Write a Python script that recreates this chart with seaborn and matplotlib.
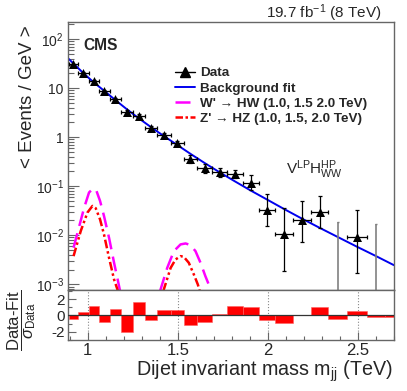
import numpy as np
import pandas as pd
import matplotlib
matplotlib.use("Agg")
import matplotlib.pyplot as plt
import seaborn as sns
from matplotlib.lines import Line2D
from matplotlib.ticker import FixedLocator, FixedFormatter, LogLocator, NullFormatter, MultipleLocator

# ---------------- data ----------------
bin_edges = [0.893, 0.946, 1.004, 1.063, 1.122, 1.185, 1.249, 1.316, 1.386, 1.460,
             1.533, 1.607, 1.690, 1.773, 1.860, 1.949, 2.041, 2.139, 2.239, 2.336,
             2.441, 2.549, 2.650]
data_y = [30.5, 20.8, 13.8, 8.6, 5.9, 3.24, 2.73, 1.52, 1.11, 0.75, 0.359, 0.233,
          0.191, 0.177, 0.116, 0.0328, 0.0107, 0.0205, 0.0303, 0.0, 0.0093, 0.0]
data_lo = [29.7, 20.1, 13.3, 8.2, 5.6, 3.0, 2.5, 1.38, 1.0, 0.66, 0.30, 0.19,
           0.157, 0.145, 0.083, 0.0155, 0.0019, 0.0074, 0.0143, 0.0, 0.00166, 0.0]
data_hi = [31.3, 21.5, 14.3, 9.0, 6.2, 3.5, 2.95, 1.67, 1.23, 0.85, 0.43, 0.285,
           0.232, 0.217, 0.169, 0.0689, 0.0356, 0.049, 0.063, 0.0186, 0.0323, 0.0172]

fit_mass = [0.89, 0.921, 0.974, 1.031, 1.092, 1.151, 1.216, 1.28, 1.35, 1.42, 1.497,
            1.572, 1.65, 1.731, 1.816, 1.903, 1.995, 2.087, 2.183, 2.285, 2.39, 2.495,
            2.60, 2.70]
fit_vals = [40.7, 31.6, 20.4, 13.3, 8.75, 5.79, 3.73, 2.47, 1.61, 1.067, 0.692,
            0.452, 0.295, 0.193, 0.126, 0.0822, 0.0535, 0.0347, 0.0224, 0.0143,
            0.00912, 0.00582, 0.00376, 0.00245]

wp_m1 = [0.921, 0.980, 1.007, 1.030, 1.048, 1.068, 1.090, 1.118, 1.146, 1.168, 1.179]
wp_y1 = [0.00556, 0.0366, 0.0745, 0.0897, 0.0805, 0.0502, 0.0247, 0.00889, 0.00274, 0.00115, 0.00074]
wp_m2 = [1.401, 1.441, 1.478, 1.515, 1.543, 1.570, 1.598, 1.626, 1.653, 1.687]
wp_y2 = [0.00072, 0.00216, 0.00474, 0.0065, 0.0068, 0.0063, 0.00474, 0.00274, 0.00146, 0.00072]

zp_m1 = [0.921, 0.961, 0.998, 1.026, 1.044, 1.068, 1.090, 1.118, 1.146, 1.168]
zp_y1 = [0.00375, 0.0122, 0.029, 0.0396, 0.0356, 0.0211, 0.0104, 0.00347, 0.00125, 0.00072]
zp_m2 = [1.419, 1.460, 1.487, 1.515, 1.533, 1.561, 1.589, 1.611, 1.622]
zp_y2 = [0.00072, 0.00216, 0.0032, 0.00375, 0.00363, 0.00274, 0.00158, 0.00099, 0.00072]

ratio_edges = bin_edges + [2.75]
ratio_vals = [-0.48, 0.40, 1.21, -0.81, 0.73, -2.02, 1.62, -0.61, 0.65, 0.65, -1.17,
              -0.85, 0.16, 1.21, 1.01, -0.53, -0.89, 0.0, 1.01, -0.48, 0.53, -0.2, -0.2]

main_ytick_vals = [1e-3, 1e-2, 1e-1, 1, 10, 100]
main_ytick_labels = [r"10$^{-3}$", r"10$^{-2}$", r"10$^{-1}$", "1", "10", r"10$^{2}$"]
ratio_xticks = [1.0, 1.5, 2.0, 2.5]
ratio_xtick_labels = ["1", "1.5", "2", "2.5"]
ratio_yticks = [-2, 0, 2]
ratio_ytick_labels = ["-2", "0", "2"]

# ---------------- style ----------------
sns.set_style("ticks")
plt.rcParams["font.family"] = ["Liberation Sans", "DejaVu Sans"]
plt.rcParams["mathtext.fontset"] = "custom"
plt.rcParams["mathtext.rm"] = "Liberation Sans"
plt.rcParams["mathtext.it"] = "Liberation Sans:italic"
plt.rcParams["mathtext.bf"] = "Liberation Sans:bold"
plt.rcParams["mathtext.sf"] = "Liberation Sans"
plt.rcParams["xtick.direction"] = "in"
plt.rcParams["ytick.direction"] = "in"

frame_col = "#666666"

edges = np.array(bin_edges)
centers = 0.5 * (edges[:-1] + edges[1:])
halfw = 0.5 * np.diff(edges)
dy = np.array(data_y)
dlo = np.array(data_lo)
dhi = np.array(data_hi)
has = dy > 0

fig = plt.figure(figsize=(4.07, 3.91), dpi=100)
ax = fig.add_axes([0.167, 0.258, 0.801, 0.686])
axr = fig.add_axes([0.167, 0.130, 0.801, 0.128])

ax.set_yscale("log")
ymin, ymax = 7.6e-4, 224
ax.set_xlim(0.89, 2.70)
ax.set_ylim(ymin, ymax)

# background fit
sns.lineplot(x=fit_mass, y=fit_vals, ax=ax, color="#0000ee", lw=1.4, sort=False)
# signals
wdash = (0, (6, 3))
zdash = (0, (3.5, 1.2, 1, 1.2, 1, 1.2))
sns.lineplot(x=wp_m1, y=wp_y1, ax=ax, color="#ff00ff", lw=1.8, sort=False, linestyle=wdash)
sns.lineplot(x=wp_m2, y=wp_y2, ax=ax, color="#ff00ff", lw=1.8, sort=False, linestyle=wdash)
sns.lineplot(x=zp_m1, y=zp_y1, ax=ax, color="#ff0000", lw=1.8, sort=False, linestyle=zdash)
sns.lineplot(x=zp_m2, y=zp_y2, ax=ax, color="#ff0000", lw=1.8, sort=False, linestyle=zdash)

# data error bars
ax.errorbar(centers[has], dy[has], yerr=[dy[has] - dlo[has], dhi[has] - dy[has]],
            xerr=halfw[has], fmt="none", ecolor="black", elinewidth=0.9, capsize=1.5,
            capthick=0.9, zorder=4)
ax.vlines(centers[~has], ymin, dhi[~has], color="#808080", lw=1.2, zorder=4)
ax.hlines(dhi[~has], centers[~has] - 0.004, centers[~has] + 0.004, color="#808080", lw=1.0, zorder=4)
sns.scatterplot(x=centers[has], y=dy[has], ax=ax, marker="^", s=42, color="black",
                edgecolor="black", linewidth=0, zorder=5)

# ticks main
ax.yaxis.set_major_locator(FixedLocator(main_ytick_vals))
ax.yaxis.set_major_formatter(FixedFormatter(main_ytick_labels))
ax.yaxis.set_minor_locator(LogLocator(base=10, subs=np.arange(2, 10)))
ax.yaxis.set_minor_formatter(NullFormatter())
ax.tick_params(axis="y", which="major", length=8, width=0.8, color=frame_col, labelsize=10, pad=3)
ax.tick_params(axis="y", which="minor", length=4, width=0.8, color=frame_col)
ax.tick_params(axis="x", which="both", length=0, labelbottom=False)
for s in ax.spines.values():
    s.set_color(frame_col)
    s.set_linewidth(1.0)

# legend
handles = [
    Line2D([], [], color="black", marker="^", markersize=6.5, lw=1.0),
    Line2D([], [], color="#0000ee", lw=1.4),
    Line2D([], [], color="#ff00ff", lw=1.8, linestyle=(0, (6, 2))),
    Line2D([], [], color="#ff0000", lw=1.8, linestyle=(0, (3, 1, 1, 1))),
]
labels = ["Data", "Background fit",
          "W' \u2192 HW (1.0, 1.5 2.0 TeV)",
          "Z' \u2192 HZ (1.0, 1.5, 2.0 TeV)"]
leg = ax.legend(handles, labels, loc="upper left", bbox_to_anchor=(0.328, 0.832),
                frameon=False, borderpad=0, borderaxespad=0, handlelength=1.5,
                handletextpad=0.37, labelspacing=0.2,
                prop={"weight": "bold", "size": 9.7, "family": ["Liberation Sans", "DejaVu Sans"]})

# texts
fig.text(83 / 407, 1 - 45 / 391, "CMS", ha="left", va="center", fontsize=11.2, weight="bold")
fig.text(382 / 407, 1 - 13.5 / 391, r"19.7 fb$^{-1}$ (8 TeV)", ha="right", va="center", fontsize=11)
fig.text(286 / 407, 1 - 174 / 391, r"V$^{\rm LP}$H$^{\rm HP}_{\rm WW}$", ha="left",
         va="baseline", fontsize=11)
fig.text(28 / 407, 1 - 25 / 391, "< Events / GeV >", rotation=90, ha="center", va="top",
         fontsize=13.5)

# ratio panel
axr.bar(ratio_edges[:-1], ratio_vals, width=np.diff(ratio_edges), align="edge",
        color="#ff0000", edgecolor="#ff6060", linewidth=0.4, zorder=2)
axr.axhline(0, color="#333333", lw=0.9, zorder=3)
axr.set_xlim(0.89, 2.70)
axr.set_ylim(-3.0, 3.08)
axr.xaxis.set_major_locator(FixedLocator(ratio_xticks))
axr.xaxis.set_major_formatter(FixedFormatter(ratio_xtick_labels))
axr.xaxis.set_minor_locator(MultipleLocator(0.1))
axr.yaxis.set_major_locator(FixedLocator(ratio_yticks))
axr.yaxis.set_major_formatter(FixedFormatter(ratio_ytick_labels))
axr.yaxis.set_minor_locator(MultipleLocator(1))
axr.tick_params(axis="both", which="major", length=6, width=0.8, color=frame_col, labelsize=11)
axr.tick_params(axis="x", which="major", labelsize=12)
axr.tick_params(axis="both", which="minor", length=3, width=0.8, color=frame_col)
axr.tick_params(axis="x", pad=2)
axr.tick_params(axis="y", pad=2)
axr.grid(axis="x", which="major", linestyle=":", color="#888888", lw=0.8)
for s in axr.spines.values():
    s.set_color(frame_col)
    s.set_linewidth(1.0)
axr.set_xlabel("")
axr.set_ylabel("")
ax.set_xlabel("")
ax.set_ylabel("")

fig.text(393 / 407, 1 - 371 / 391, r"Dijet invariant mass m$_{\rm jj}$ (TeV)", ha="right",
         va="center", fontsize=14.2)
fig.text(22 / 407, 1 - 320 / 391, r"$\dfrac{\mathrm{Data\text{-}Fit}}{\sigma_{\mathrm{Data}}}$",
         rotation=90, ha="center", va="center", fontsize=12)

fig.savefig("out.png", dpi=100)
